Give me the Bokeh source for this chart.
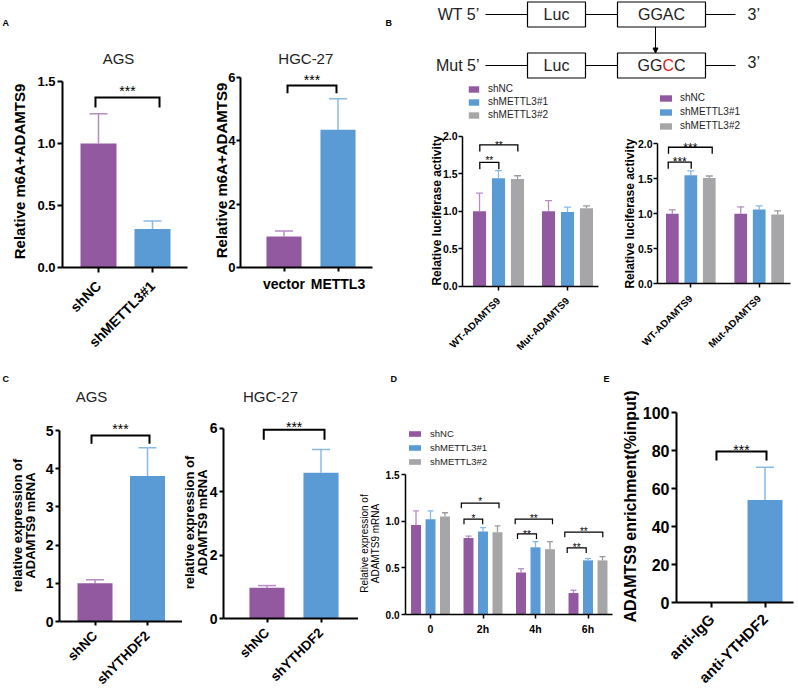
import math
from bokeh.plotting import figure
from bokeh.models import (Range1d, FixedTicker, ColumnDataSource, Whisker, TeeHead, Label,
                          Legend, LegendItem, Arrow, NormalHead, NumeralTickFormatter)
from bokeh.layouts import row, column
from bokeh.embed import file_html
from bokeh.resources import INLINE
from bokeh.core.properties import value

FONT = "Liberation Sans"
C_PURPLE, C_BLUE, C_GRAY = "#9359A0", "#5B9BD5", "#A6A6A8"
E_PURPLE, E_BLUE, E_GRAY = "#B68CC4", "#88BAE6", "#9C9C9E"

# ---------------- data ----------------
a_ags_labels = ["shNC", "shMETTL3#1"]
a_ags_mean = [1.00, 0.31]
a_ags_sd = [0.24, 0.065]
a_hgc_labels = ["vector", "METTL3"]
a_hgc_mean = [0.98, 4.35]
a_hgc_sd = [0.17, 0.98]

b_groups = ["WT-ADAMTS9", "Mut-ADAMTS9"]
series_names = ["shNC", "shMETTL3#1", "shMETTL3#2"]
b1_shnc = [1.00, 1.00]
b1_shnc_sd = [0.24, 0.14]
b1_sh1 = [1.44, 0.99]
b1_sh1_sd = [0.10, 0.065]
b1_sh2 = [1.43, 1.04]
b1_sh2_sd = [0.043, 0.031]
b2_shnc = [1.00, 1.00]
b2_shnc_sd = [0.057, 0.10]
b2_sh1 = [1.55, 1.06]
b2_sh1_sd = [0.063, 0.053]
b2_sh2 = [1.51, 0.99]
b2_sh2_sd = [0.03, 0.053]

c_ags_labels = ["shNC", "shYTHDF2"]
c_ags_mean = [1.00, 3.81]
c_ags_sd = [0.09, 0.74]
c_hgc_labels = ["shNC", "shYTHDF2"]
c_hgc_mean = [0.97, 4.60]
c_hgc_sd = [0.07, 0.74]

d_groups = ["0", "2h", "4h", "6h"]
d_shnc = [0.96, 0.82, 0.45, 0.23]
d_shnc_sd = [0.15, 0.02, 0.04, 0.03]
d_sh1 = [1.02, 0.89, 0.72, 0.58]
d_sh1_sd = [0.09, 0.04, 0.06, 0.02]
d_sh2 = [1.05, 0.88, 0.70, 0.58]
d_sh2_sd = [0.04, 0.07, 0.08, 0.04]

e_labels = ["anti-IgG", "anti-YTHDF2"]
e_mean = [0.0, 54.0]
e_sd = [0.0, 17.2]

# significance brackets: (x_left, x_right, y, label, label_y)
a_ags_sig = [(-0.056, 1.13, 1.371, "***", 1.427)]
a_hgc_sig = [(0.065, 0.972, 5.75, "***", 5.914)]
b1_sig = [(-0.271, 0.005, 1.65, "**", 1.675), (-0.271, 0.28, 1.885, "**", 1.875)]
b2_sig = [(-0.33, 0.006, 1.737, "***", 1.734), (-0.326, 0.313, 1.951, "***", 1.934)]
c_ags_sig = [(-0.067, 1.038, 4.87, "***", 5.034)]
c_hgc_sig = [(-0.06, 1.065, 5.96, "***", 6.053)]
d_sig = [(0.638, 0.994, 1.021, "*", 1.028), (0.587, 1.305, 1.193, "*", 1.206),
         (1.657, 2.019, 0.864, "**", 0.860), (1.613, 2.324, 1.021, "**", 1.031),
         (2.604, 2.966, 0.714, "**", 0.7206), (2.558, 3.282, 0.882, "**", 0.8845)]
e_sig = [(0.093, 1.028, 79.5, "***", 80.5)]


# ---------------- helpers ----------------
def make_panel(box, x0px, ppx, y0px, ppy):
    """box = (left, right, top, bottom) of the figure on the page, in pixels."""
    xl, xr, yt, yb = box
    p = figure(width=xr - xl, height=yb - yt,
               x_range=Range1d((xl - x0px) / ppx, (xr - x0px) / ppx),
               y_range=Range1d((y0px - yb) / ppy, (y0px - yt) / ppy),
               output_backend="svg", toolbar_location=None, title=None, min_border=0)
    p.outline_line_color = None
    p.xgrid.visible = False
    p.ygrid.visible = False
    p.background_fill_color = "white"
    p.border_fill_color = "white"
    X = lambda px: (px - x0px) / ppx
    Y = lambda py: (y0px - py) / ppy
    return p, X, Y


def style(p, X, yaxis_px, xend_px, xticks, xlabels, yticks, yfmt, lw, tick_fs, xlab_fs,
          rot, tick_out=5, lab_standoff=2, xlab_standoff=None):
    xa, ya = p.xaxis[0], p.yaxis[0]
    for ax in (xa, ya):
        ax.axis_line_width = lw
        ax.axis_line_color = "black"
        ax.major_tick_line_width = lw
        ax.major_tick_line_color = "black"
        ax.major_tick_out = tick_out
        ax.major_tick_in = 0
        ax.minor_tick_line_color = None
        ax.major_label_text_font = FONT
        ax.major_label_text_color = "black"
        ax.major_label_text_font_style = "bold"
        ax.major_label_standoff = lab_standoff
    if xlab_standoff is not None:
        xa.major_label_standoff = xlab_standoff
    ya.major_label_text_font_size = tick_fs
    xa.major_label_text_font_size = xlab_fs
    ya.fixed_location = X(yaxis_px)
    xa.fixed_location = 0
    xa.bounds = (X(yaxis_px), X(xend_px))
    xa.ticker = FixedTicker(ticks=xticks)
    xa.major_label_overrides = {t: l for t, l in zip(xticks, xlabels)}
    if rot:
        xa.major_label_orientation = math.pi / 4
    ya.ticker = FixedTicker(ticks=yticks)
    ya.bounds = (0, yticks[-1])
    ya.formatter = NumeralTickFormatter(format=yfmt)


def add_text(p, x, y, text, fs, bold=False, align="left", color="black", angle=0.0):
    p.add_layout(Label(x=x, y=y, text=text, text_font=FONT, text_font_size=fs,
                       text_font_style="bold" if bold else "normal", angle=angle,
                       text_align=align, text_baseline="middle", text_color=color))


def ylabel(p, X, Y, cx, cy, text, fs, bold=True):
    add_text(p, X(cx), Y(cy), text, fs, bold=bold, align="center", angle=math.pi / 2)


def add_bars(p, xs, means, sds, width, colors, ecolors, cap, elw=1.5):
    for x, m, s, c, ec in zip(xs, means, sds, colors, ecolors):
        p.vbar(x=[x], top=[m], width=width, fill_color=c, line_color=None)
        if s > 0:
            src = ColumnDataSource(dict(x=[x], lo=[m], hi=[m + s]))
            p.add_layout(Whisker(source=src, base="x", lower="lo", upper="hi",
                                 line_color=ec, line_width=elw, lower_head=None,
                                 upper_head=TeeHead(size=cap, line_color=ec, line_width=elw)))


def add_series(p, centers, offset, means, sds, width, color, ecolor, cap, elw=1.3):
    xs = [c + offset for c in centers]
    r = p.vbar(x=xs, top=means, width=width, fill_color=color, line_color=None)
    keep = [(x, m, s) for x, m, s in zip(xs, means, sds) if s > 0]
    src = ColumnDataSource(dict(x=[k[0] for k in keep], lo=[k[1] for k in keep],
                                hi=[k[1] + k[2] for k in keep]))
    p.add_layout(Whisker(source=src, base="x", lower="lo", upper="hi",
                         line_color=ecolor, line_width=elw, lower_head=None,
                         upper_head=TeeHead(size=cap, line_color=ecolor, line_width=elw)))
    return r


def add_sig(p, brackets, drop, lw, fs):
    xs, ys, tx, ty, tt = [], [], [], [], []
    for x1, x2, y, lab, ly in brackets:
        xs.append([x1, x1, x2, x2])
        ys.append([y - drop, y, y, y - drop])
        tx.append((x1 + x2) / 2)
        ty.append(ly)
        tt.append(lab)
    p.multi_line(xs, ys, line_color="black", line_width=lw, line_join="miter")
    p.text(tx, ty, text=tt, text_align="center", text_baseline="alphabetic",
           text_font=value(FONT), text_font_size=fs, text_color="#000000")


def add_legend(p, renderers, labels, loc, fs, gw, gh, lh, standoff, spacing=0):
    items = [LegendItem(label=l, renderers=[r]) for l, r in zip(labels, renderers)]
    lg = Legend(items=items, location=loc, orientation="vertical", padding=0, margin=0,
                spacing=spacing, glyph_width=gw, glyph_height=gh, label_height=lh,
                label_standoff=standoff, label_text_font=FONT, label_text_font_size=fs,
                label_text_color="#222222", border_line_color=None,
                background_fill_alpha=0)
    p.add_layout(lg)


# ---------------- Panel A ----------------
pa1, X, Y = make_panel((0, 195, 0, 352), 98, 54, 267, 124)
style(pa1, X, 62, 187, [0, 1], a_ags_labels, [0, 0.5, 1.0, 1.5], "0.0", 2, "13px", "14px", True,
      xlab_standoff=11)
add_bars(pa1, [0, 1], a_ags_mean, a_ags_sd, 0.667, [C_PURPLE, C_BLUE], [E_PURPLE, E_BLUE], 18)
add_sig(pa1, a_ags_sig, 0.081, 2, "14px")
ylabel(pa1, X, Y, 19, 171, "Relative m6A+ADAMTS9", "15px")
add_text(pa1, X(118), Y(57.5), "AGS", "15px", color="#222222", align="center")
add_text(pa1, X(2), Y(22), "A", "9px", bold=True)

pa2, X, Y = make_panel((195, 398, 0, 352), 283.5, 54, 267, 31.67)
style(pa2, X, 240, 372, [0, 1], a_hgc_labels, [0, 2, 4, 6], "0", 2, "13px", "14px", False,
      tick_out=4, lab_standoff=1, xlab_standoff=4)
add_bars(pa2, [0, 1], a_hgc_mean, a_hgc_sd, 0.65, [C_PURPLE, C_BLUE], [E_PURPLE, E_BLUE], 18)
add_sig(pa2, a_hgc_sig, 0.25, 2, "14px")
ylabel(pa2, X, Y, 221, 170, "Relative m6A+ADAMTS9", "15px")
add_text(pa2, X(305.3), Y(57.5), "HGC-27", "15px", color="#222222", align="center")
add_text(pa2, X(385), Y(22), "B", "9px", bold=True)

# ---------------- Panel B schematic ----------------
sch = figure(width=400, height=80, x_range=Range1d(398, 798), y_range=Range1d(80, 0),
             output_backend="svg", toolbar_location=None, title=None, min_border=0,
             x_axis_type=None, y_axis_type=None)
sch.outline_line_color = None
sch.background_fill_color = "white"
row_y = [14, 65]
half_h = 12.5
line_spans = [(485, 527), (585, 617), (705, 735)]
box_spans = [(527, 585), (617, 705)]
for yy in row_y:
    sch.segment(x0=[a for a, b in line_spans], x1=[b for a, b in line_spans],
                y0=[yy] * 3, y1=[yy] * 3, line_color="black", line_width=1)
    sch.quad(left=[a for a, b in box_spans], right=[b for a, b in box_spans],
             top=[yy - half_h] * 2, bottom=[yy + half_h] * 2,
             fill_color=None, line_color="black", line_width=1.2)
sch.text(x=[479, 479], y=row_y, text=["WT 5\u2019", "Mut 5\u2019"], text_align="right",
         text_baseline="middle", text_font=value(FONT), text_font_size="16px", text_color="#222222")
sch.text(x=[556, 556, 661], y=[row_y[0], row_y[1], row_y[0]], text=["Luc", "Luc", "GGAC"],
         text_align="center", text_baseline="middle", text_font=value(FONT),
         text_font_size="16px", text_color="#222222")
sch.text(x=[637, 673.4], y=[row_y[1], row_y[1]], text=["GG", "C"], text_align="left",
         text_baseline="middle", text_font=value(FONT), text_font_size="16px", text_color="#222222")
sch.text(x=[661.9], y=[row_y[1]], text=["C"], text_align="left", text_baseline="middle",
         text_font=value(FONT), text_font_size="16px", text_color="#E0201B")
sch.text(x=[747, 747], y=[row_y[0], row_y[1] - 3], text=["3\u2019", "3\u2019"],
         text_align="left", text_baseline="middle", text_font=value(FONT),
         text_font_size="16px", text_color="#222222")
sch.add_layout(Arrow(x_start=655, y_start=row_y[0] + half_h, x_end=655, y_end=row_y[1] - half_h,
                     line_color="black", line_width=1,
                     end=NormalHead(size=5, fill_color="black", line_color="black")))

# ---------------- Panel B bar charts ----------------
pb1, X, Y = make_panel((398, 605, 80, 352), 498, 69, 285.7, 75)
style(pb1, X, 462, 598, [0, 1], b_groups, [0, 0.5, 1.0, 1.5, 2.0], "0.0", 1.5, "10.5px", "10px",
      True, tick_out=4, lab_standoff=1, xlab_standoff=9)
r1 = add_series(pb1, [0, 1], -0.275, b1_shnc, b1_shnc_sd, 0.19, C_PURPLE, E_PURPLE, 7)
r2 = add_series(pb1, [0, 1], 0.0, b1_sh1, b1_sh1_sd, 0.19, C_BLUE, E_BLUE, 7)
r3 = add_series(pb1, [0, 1], 0.275, b1_sh2, b1_sh2_sd, 0.19, C_GRAY, E_GRAY, 7)
add_sig(pb1, b1_sig, 0.09, 1.3, "10px")
ylabel(pb1, X, Y, 436, 210, "Relative luciferase activity", "12px")
add_legend(pb1, [r1, r2, r3], series_names, (69, 231), "10px", 13, 8, 13, 8)

pb2, X, Y = make_panel((605, 798, 80, 352), 690.3, 68.4, 283.3, 70)
style(pb2, X, 657, 790, [0, 1], b_groups, [0, 0.5, 1.0, 1.5, 2.0], "0.0", 1.5, "10.5px", "10px",
      True, tick_out=4, lab_standoff=1, xlab_standoff=9)
s1 = add_series(pb2, [0, 1], -0.27, b2_shnc, b2_shnc_sd, 0.186, C_PURPLE, E_PURPLE, 7)
s2 = add_series(pb2, [0, 1], 0.0, b2_sh1, b2_sh1_sd, 0.186, C_BLUE, E_BLUE, 7)
s3 = add_series(pb2, [0, 1], 0.27, b2_sh2, b2_sh2_sd, 0.186, C_GRAY, E_GRAY, 7)
add_sig(pb2, b2_sig, 0.094, 1.3, "12px")
ylabel(pb2, X, Y, 629, 213, "Relative luciferase activity", "12px")
add_legend(pb2, [s1, s2, s3], series_names, (53, 220), "10px", 15, 8, 13, 7, spacing=1)

# ---------------- Panel C ----------------
pc1, X, Y = make_panel((0, 182, 352, 697), 94.5, 52.5, 621, 38.2)
style(pc1, X, 59, 182, [0, 1], c_ags_labels, [0, 1, 2, 3, 4, 5], "0", 2, "14px", "13.5px", True,
      tick_out=4, lab_standoff=2, xlab_standoff=8)
add_bars(pc1, [0, 1], c_ags_mean, c_ags_sd, 0.667, [C_PURPLE, C_BLUE], [E_PURPLE, E_BLUE], 18)
add_sig(pc1, c_ags_sig, 0.217, 2, "14px")
ylabel(pc1, X, Y, 16.5, 525, "relative expression of", "13px")
ylabel(pc1, X, Y, 29.5, 525, "ADAMTS9 mRNA", "13px")
add_text(pc1, X(91), Y(396), "AGS", "15px", color="#222222", align="center")
add_text(pc1, X(2), Y(378.5), "C", "9px", bold=True)

pc2, X, Y = make_panel((182, 358, 352, 697), 266.5, 54, 618, 31.67)
style(pc2, X, 223, 358, [0, 1], c_hgc_labels, [0, 2, 4, 6], "0", 2, "14px", "13.5px", True,
      tick_out=4, lab_standoff=2, xlab_standoff=8)
add_bars(pc2, [0, 1], c_hgc_mean, c_hgc_sd, 0.65, [C_PURPLE, C_BLUE], [E_PURPLE, E_BLUE], 18)
add_sig(pc2, c_hgc_sig, 0.316, 2, "14px")
ylabel(pc2, X, Y, 189, 522, "relative expression of", "13px")
ylabel(pc2, X, Y, 201.5, 522, "ADAMTS9 mRNA", "13px")
add_text(pc2, X(270), Y(396), "HGC-27", "15px", color="#222222", align="center")

# ---------------- Panel D ----------------
pd, X, Y = make_panel((358, 614, 352, 697), 430, 52.5, 614, 93.33)
style(pd, X, 405, 612, [0, 1, 2, 3], d_groups, [0, 0.5, 1.0, 1.5], "0.0", 1.5, "10px", "10.5px",
      False, tick_out=4, lab_standoff=2, xlab_standoff=4)
centers = [0, 1, 2, 3]
q1 = add_series(pd, centers, -0.276, d_shnc, d_shnc_sd, 0.19, C_PURPLE, E_PURPLE, 6)
q2 = add_series(pd, centers, 0.0, d_sh1, d_sh1_sd, 0.19, C_BLUE, E_BLUE, 6)
q3 = add_series(pd, centers, 0.276, d_sh2, d_sh2_sd, 0.19, C_GRAY, E_GRAY, 6)
add_sig(pd, d_sig, 0.054, 1.2, "10px")
ylabel(pd, X, Y, 363.5, 543, "Relative expression of", "10px", bold=False)
ylabel(pd, X, Y, 375, 543, "ADAMTS9 mRNA", "10px", bold=False)
add_legend(pd, [q1, q2, q3], series_names, (49, 229), "9.5px", 15, 7, 13, 8, spacing=1)
add_text(pd, X(390), Y(378.5), "D", "9px", bold=True)
add_text(pd, X(603), Y(378.5), "E", "9px", bold=True)

# ---------------- Panel E ----------------
pe, X, Y = make_panel((614, 798, 352, 697), 711, 53.5, 602, 1.9)
style(pe, X, 676, 793, [0, 1], e_labels, [0, 20, 40, 60, 80, 100], "0", 2, "16px", "15px", True,
      tick_out=5, lab_standoff=2, xlab_standoff=9)
add_bars(pe, [0, 1], e_mean, e_sd, 0.654, [C_PURPLE, C_BLUE], [E_PURPLE, E_BLUE], 18)
add_sig(pe, e_sig, 4.7, 2, "14px")
ylabel(pe, X, Y, 630, 506, "ADAMTS9 enrichment(%input)", "16px")

top = row(pa1, pa2, column(sch, row(pb1, pb2)))
bottom = row(pc1, pc2, pd, pe)
layout = column(top, bottom)

open("out.html", "w").write(file_html(layout, INLINE))
